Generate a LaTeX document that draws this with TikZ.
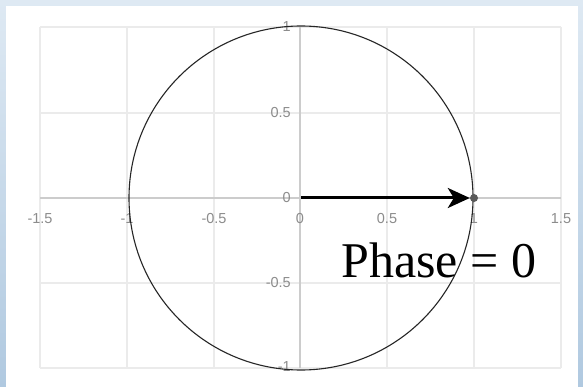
\documentclass[tikz,border=0pt]{standalone}
\usepackage{fontspec}
\setmainfont{Liberation Serif}
\setsansfont{Liberation Sans}
\usetikzlibrary{arrows.meta}
\begin{document}
\begin{tikzpicture}[x=1pt,y=-1pt,
  gridline/.style={draw=black!8,line width=1.4pt},
  axisline/.style={draw=black!20,line width=1.2pt},
  ticklab/.style={font=\sffamily\fontsize{14.5}{14.5}\selectfont,text=black!45,inner sep=0pt},
  phasor/.style={line width=3pt,-{Stealth[length=22pt,width=20pt,inset=6pt]}},
  tipdot/.style={circle,fill=black!65,inner sep=0pt,minimum size=8pt}]
\useasboundingbox (0,0) rectangle (583,387);
% background
\shade[top color={rgb,255:red,222;green,233;blue,243},bottom color={rgb,255:red,176;green,201;blue,224}] (0,0) rectangle (583,387);
\fill[white] (6,6) rectangle (578,387);
% grid
\foreach \gx in {40,127,214,387,474,561}{\draw[gridline] (\gx,27) -- (\gx,368);}
\foreach \gy in {27,113,283,368}{\draw[gridline] (40,\gy) -- (561,\gy);}
\draw[axisline] (300,27) -- (300,368);
\draw[axisline] (40,198) -- (561,198);
% x labels
\node[ticklab] (xa) at (40,219) {-1.5};
\node[ticklab] (xb) at (127,219) {-1};
\node[ticklab] (xc) at (214,219) {-0.5};
\node[ticklab] (xd) at (300,219) {0};
\node[ticklab] (xe) at (387,219) {0.5};
\node[ticklab] (xf) at (474,219) {1};
\node[ticklab] (xg) at (561,219) {1.5};
% y labels
\node[ticklab,anchor=east] (ya) at (291,27) {1};
\node[ticklab,anchor=east] (yb) at (291,113) {0.5};
\node[ticklab,anchor=east] (yc) at (291,198) {0};
\node[ticklab,anchor=east] (yd) at (291,283) {-0.5};
\node[ticklab,anchor=east] (ye) at (291,367) {-1};
% circle
\draw[black!85,line width=1.1pt] (301,198) circle (172);
% phasor
\coordinate (o) at (301,198);
\node[tipdot] (tip) at (474,198) {};
\draw[phasor] (o) -- (tip.west);
% label
\node[anchor=base west,inner sep=0pt,font=\fontsize{50}{50}\selectfont] (ph) at (341,277) {Phase = 0};
\end{tikzpicture}
\end{document}
